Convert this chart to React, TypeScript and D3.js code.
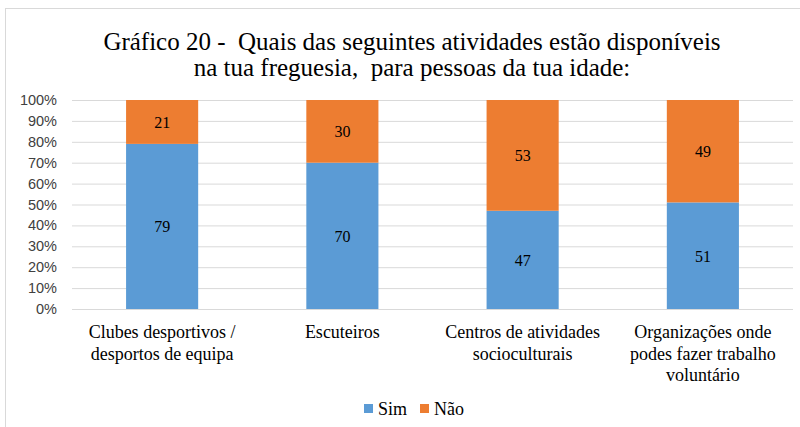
import React from "react";
import * as d3 from "d3";

const categories = [
  ["Clubes desportivos /", "desportos de equipa"],
  ["Escuteiros"],
  ["Centros de atividades", "socioculturais"],
  ["Organizações onde", "podes fazer trabalho", "voluntário"],
];
const simValues = [79, 70, 47, 51];
const naoValues = [21, 30, 53, 49];
const seriesNames = ["Sim", "Não"];
const colors = ["#5B9BD5", "#ED7D31"];
const yTicks = [0, 10, 20, 30, 40, 50, 60, 70, 80, 90, 100];
const titleLines = [
  "Gráfico 20 -  Quais das seguintes atividades estão disponíveis",
  "na tua freguesia,  para pessoas da tua idade:",
];

const W = 800;
const H = 427;
const serif = "Liberation Serif, Tinos, Times New Roman, serif";
const sans = "Liberation Sans, Arial, sans-serif";

export default function App() {
  const x = d3
    .scaleBand<number>()
    .domain(d3.range(categories.length))
    .range([72, 793])
    .paddingInner(0.6)
    .paddingOuter(0.3);
  const y = d3.scaleLinear().domain([0, 100]).range([309, 100]);

  const rows = categories.map((c, i) => ({ i, Sim: simValues[i], Não: naoValues[i] }));
  const stacked = d3.stack<any>().keys(seriesNames)(rows);

  return (
    <svg
      width={W}
      height={H}
      style={{ position: "fixed", left: 0, top: 0, background: "#fff" }}
    >
      <rect x={5.5} y={8.5} width={W} height={H} fill="#fff" stroke="#d9d9d9" />

      <text
        textAnchor="middle"
        style={{ fontFamily: serif, fontSize: 25, whiteSpace: "pre" }}
        fill="#000"
      >
        {titleLines.map((l, i) => (
          <tspan key={i} x={412} y={50 + i * 26}>
            {l}
          </tspan>
        ))}
      </text>

      {yTicks.map((t) => (
        <g key={t}>
          <line x1={72} x2={793} y1={y(t) + 0.5} y2={y(t) + 0.5} stroke="#d9d9d9" />
          <text
            x={57}
            y={y(t) + 5}
            textAnchor="end"
            style={{ fontFamily: sans, fontSize: 14.5 }}
            fill="#404040"
          >
            {t}%
          </text>
        </g>
      ))}

      {stacked.map((s, si) => (
        <g key={s.key} fill={colors[si]}>
          {s.map((d, i) => (
            <g key={i}>
              <rect
                x={x(i)!}
                y={y(d[1])}
                width={x.bandwidth()}
                height={y(d[0]) - y(d[1])}
              />
              <text
                x={x(i)! + x.bandwidth() / 2}
                y={(y(d[0]) + y(d[1])) / 2 + 6}
                textAnchor="middle"
                style={{ fontFamily: serif, fontSize: 16 }}
                fill="#000"
              >
                {d[1] - d[0]}
              </text>
            </g>
          ))}
        </g>
      ))}

      {categories.map((lines, i) => (
        <text
          key={i}
          textAnchor="middle"
          style={{ fontFamily: serif, fontSize: 18 }}
          fill="#000"
        >
          {lines.map((l, li) => (
            <tspan key={li} x={x(i)! + x.bandwidth() / 2} y={338 + li * 21.7}>
              {l}
            </tspan>
          ))}
        </text>
      ))}

      <g style={{ fontFamily: serif, fontSize: 18 }} fill="#000">
        {seriesNames.map((n, i) => (
          <g key={n} transform={`translate(${364 + i * 56},0)`}>
            <rect x={0} y={404} width={9} height={9} fill={colors[i]} />
            <text x={14} y={415}>
              {n}
            </text>
          </g>
        ))}
      </g>
    </svg>
  );
}
